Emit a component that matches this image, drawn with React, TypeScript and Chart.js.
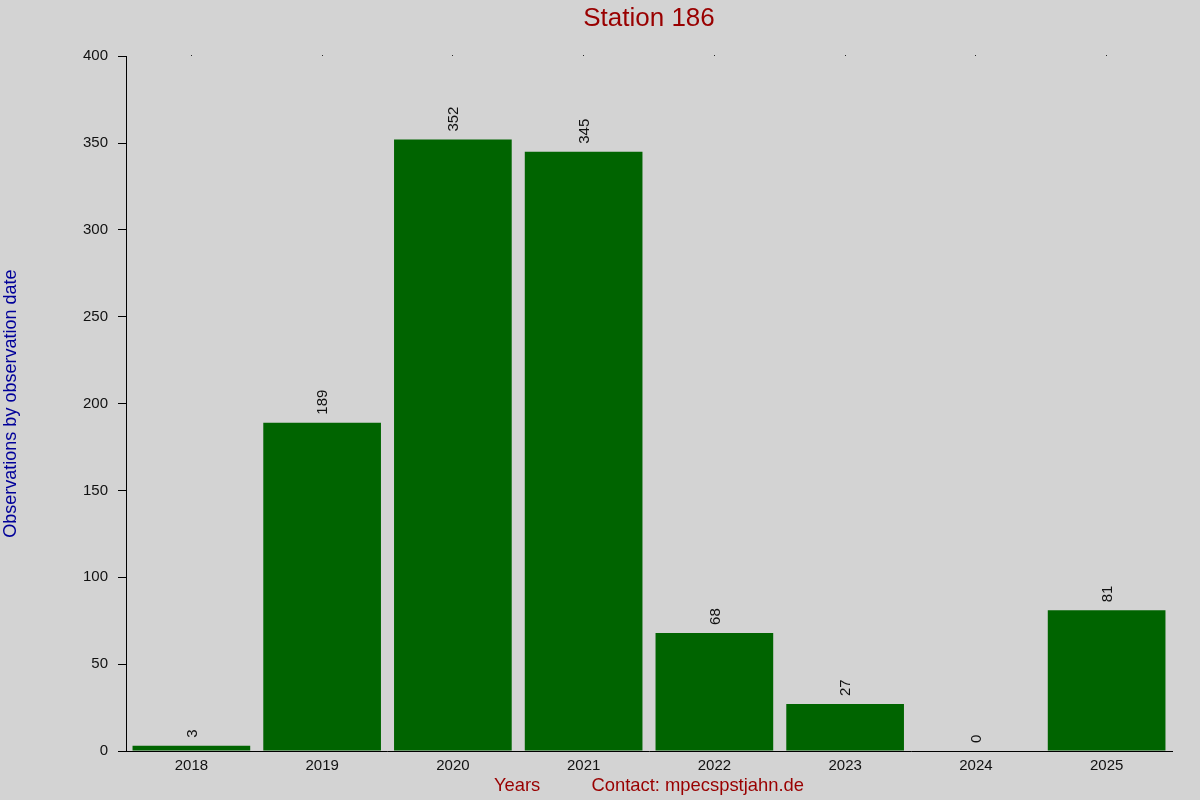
import { useEffect, useRef } from 'react';
import { Chart, registerables } from 'chart.js';

Chart.register(...registerables);

const years = ['2018', '2019', '2020', '2021', '2022', '2023', '2024', '2025'];
const observations = [3, 189, 352, 345, 68, 27, 0, 81];

const yMax = 400;
const yStep = 50;

const chartTitle = 'Station 186';
const yTitle = 'Observations by observation date';
const xTitle = 'Years          Contact: mpecspstjahn.de';

// Grey page background behind the whole canvas
const backgroundPlugin = {
	id: 'greyBackground',
	beforeDraw(chart: Chart) {
		const { ctx, width, height } = chart;
		ctx.save();
		ctx.fillStyle = '#d3d3d3';
		ctx.fillRect(0, 0, width, height);
		ctx.restore();
	},
};

// Rotated value labels above each bar
const valueLabelPlugin = {
	id: 'valueLabels',
	afterDatasetsDraw(chart: Chart) {
		const { ctx } = chart;
		const meta = chart.getDatasetMeta(0);
		ctx.save();
		ctx.font = '15px "Liberation Sans", Arial, sans-serif';
		ctx.fillStyle = '#111';
		ctx.textAlign = 'left';
		ctx.textBaseline = 'middle';
		meta.data.forEach((bar: any, i: number) => {
			ctx.save();
			ctx.translate(bar.x + 1, bar.y - 8);
			ctx.rotate(-Math.PI / 2);
			ctx.fillText(String(observations[i]), 0, 0);
			ctx.restore();
		});
		ctx.restore();
	},
};

export default function App() {
	const canvasRef = useRef<HTMLCanvasElement>(null);

	useEffect(() => {
		if (!canvasRef.current) return;
		Chart.defaults.font.family = '"Liberation Sans", Arial, sans-serif';
		Chart.defaults.color = '#000';

		const chart = new Chart(canvasRef.current, {
			type: 'bar',
			data: {
				labels: years,
				datasets: [
					{
						label: 'Observations',
						data: observations,
						backgroundColor: '#006400',
						borderWidth: 0,
						barPercentage: 0.9,
						categoryPercentage: 1,
					},
				],
			},
			options: {
				animation: false,
				responsive: false,
				maintainAspectRatio: false,
				layout: { padding: { left: 0, right: 28, top: 0, bottom: 0 } },
				plugins: {
					legend: { display: false },
					tooltip: { enabled: false },
					title: {
						display: true,
						text: chartTitle,
						color: '#990000',
						fullSize: false,
						font: { size: 26, weight: 'normal' },
						padding: { top: 3, bottom: 22 },
					},
				},
				scales: {
					x: {
						type: 'category',
						position: 'bottom',
						offset: true,
						grid: { display: false, drawTicks: false },
						border: { display: true, color: '#000', width: 1 },
						ticks: { color: '#111', font: { size: 15 }, padding: 6, maxRotation: 0 },
						title: {
							display: true,
							text: xTitle,
							color: '#990000',
							font: { size: 18.4 },
							padding: { top: 0, bottom: 3 },
						},
						afterFit(scale: any) {
							scale.height = 49;
						},
					},
					x2: {
						type: 'category',
						position: 'top',
						offset: true,
						grid: {
							display: true,
							offset: false,
							drawOnChartArea: false,
							drawTicks: true,
							tickLength: 1,
							color: '#000',
						},
						border: { display: false },
						ticks: { display: false },
						afterFit(scale: any) {
							scale.height = 0;
						},
					},
					y: {
						min: 0,
						max: yMax,
						ticks: { stepSize: yStep, color: '#111', font: { size: 15 }, padding: 10 },
						grid: {
							display: true,
							drawOnChartArea: false,
							drawTicks: true,
							tickLength: 8,
							color: '#000',
						},
						border: { display: true, color: '#000', width: 1 },
						title: {
							display: true,
							text: yTitle,
							color: '#000099',
							font: { size: 18 },
							padding: { top: 0, bottom: 0 },
						},
						afterFit(scale: any) {
							scale.width = 126;
						},
					},
				},
			},
			plugins: [backgroundPlugin, valueLabelPlugin],
		});

		return () => chart.destroy();
	}, []);

	return (
		<div
			style={{
				position: 'fixed',
				left: 0,
				top: 0,
				width: '1200px',
				height: '800px',
				background: '#d3d3d3',
			}}
		>
			<canvas ref={canvasRef} width={1200} height={800} style={{ width: '1200px', height: '800px' }}></canvas>
		</div>
	);
}
